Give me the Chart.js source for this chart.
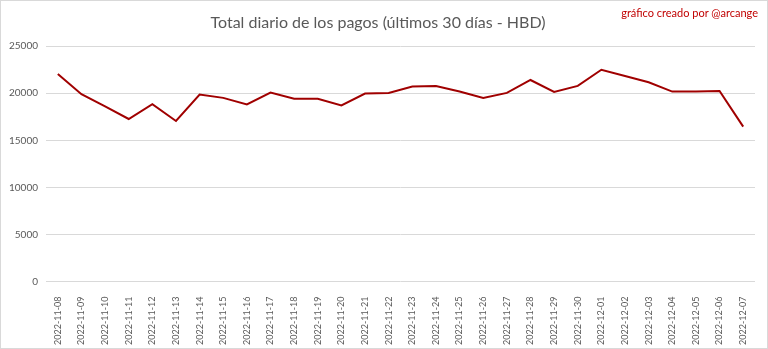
<!DOCTYPE html>
<html lang="es">
<head>
    <meta charset="UTF-8">
    <title>Total diario de los pagos</title>
    <script src="https://cdn.jsdelivr.net/npm/chart.js"></script>
    <style>
        body { margin: 0; background: #fff; }
        #wrap { position: relative; width: 766px; height: 347px; border: 1px solid #d9d9d9; }
        #credit { position: absolute; right: 9px; top: 5px; font: 11px Lato, sans-serif; color: #c00000; }
    </style>
</head>
<body>
    <div id="wrap">
        <canvas id="myChart"></canvas>
        <div id="credit">gráfico creado por @arcange</div>
    </div>
    <script>
        const fechas = [
            "2022-11-08", "2022-11-09", "2022-11-10", "2022-11-11", "2022-11-12", "2022-11-13",
            "2022-11-14", "2022-11-15", "2022-11-16", "2022-11-17", "2022-11-18", "2022-11-19",
            "2022-11-20", "2022-11-21", "2022-11-22", "2022-11-23", "2022-11-24", "2022-11-25",
            "2022-11-26", "2022-11-27", "2022-11-28", "2022-11-29", "2022-11-30", "2022-12-01",
            "2022-12-02", "2022-12-03", "2022-12-04", "2022-12-05", "2022-12-06", "2022-12-07"
        ];
        const pagos = [
            22050, 19900, 18600, 17270, 18850, 17060,
            19870, 19510, 18810, 20080, 19410, 19410,
            18710, 19970, 20040, 20710, 20780, 20180,
            19510, 20040, 21410, 20150, 20780, 22500,
            21840, 21170, 20180, 20180, 20250, 16460
        ];
        const yTicks = [0, 5000, 10000, 15000, 20000, 25000];

        const gris = "#595959";

        new Chart(document.getElementById("myChart"), {
            type: "line",
            data: {
                labels: fechas,
                datasets: [{
                    label: "Total",
                    data: pagos,
                    borderColor: "#a00000",
                    borderWidth: 2,
                    pointRadius: 0,
                    tension: 0
                }]
            },
            options: {
                responsive: true,
                maintainAspectRatio: false,
                animation: false,
                layout: { padding: { left: 0, right: 12, top: 0, bottom: -4 } },
                plugins: {
                    legend: { display: false },
                    tooltip: { enabled: false },
                    title: {
                        display: true,
                        text: "Total diario de los pagos (últimos 30 días - HBD)",
                        color: gris,
                        font: { family: "Lato", size: 16, weight: "normal" },
                        padding: { top: 12, bottom: 14 }
                    }
                },
                scales: {
                    x: {
                        offset: true,
                        grid: { display: false },
                        border: { display: false },
                        ticks: {
                            color: gris,
                            font: { family: "Lato", size: 9 },
                            minRotation: 90,
                            maxRotation: 90,
                            autoSkip: false,
                            padding: 7
                        }
                    },
                    y: {
                        min: yTicks[0],
                        max: yTicks[yTicks.length - 1],
                        afterBuildTicks: axis => { axis.ticks = yTicks.map(v => ({ value: v })); },
                        grid: { color: "#d9d9d9", drawTicks: false },
                        border: { display: false },
                        ticks: {
                            color: gris,
                            font: { family: "Lato", size: 10 },
                            padding: 8,
                            callback: v => String(v)
                        }
                    }
                }
            }
        });
    </script>
</body>
</html>
